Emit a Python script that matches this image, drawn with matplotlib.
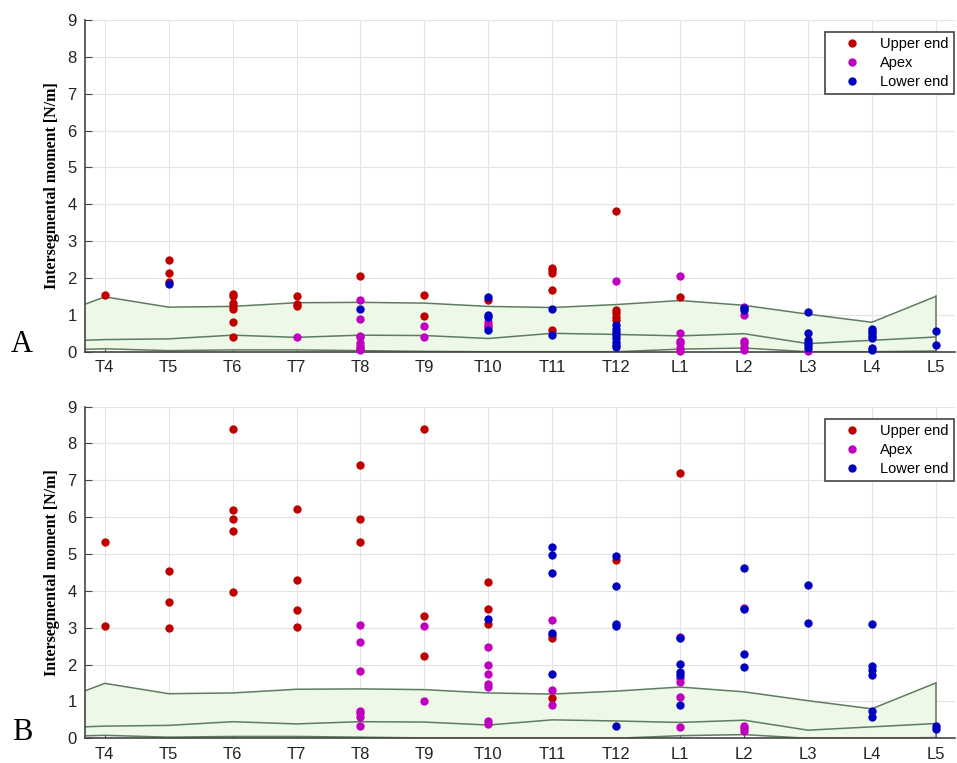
import numpy as np
import matplotlib.pyplot as plt

# vertebral levels (T3 only used for the reference band, it lies left of the axis)
levels = ['T4', 'T5', 'T6', 'T7', 'T8', 'T9', 'T10', 'T11', 'T12',
          'L1', 'L2', 'L3', 'L4', 'L5']
band_levels = ['T3'] + levels

# reference band (max / mean / min)
band_upper = [0.84, 1.49, 1.21, 1.23, 1.33, 1.34, 1.32, 1.23, 1.20, 1.28, 1.39, 1.26, 1.02, 0.80, 1.50]
band_mid = [0.27, 0.33, 0.35, 0.45, 0.39, 0.45, 0.44, 0.36, 0.50, 0.47, 0.43, 0.49, 0.22, 0.31, 0.40]
band_lower = [0.035, 0.08, 0.03, 0.05, 0.05, 0.03, 0.01, 0.0, 0.0, 0.0, 0.07, 0.10, 0.0, 0.0, 0.02]

# panel A
a_upper = {
    'T4': [1.54], 'T5': [2.50, 2.14, 1.90], 'T6': [1.58, 1.51, 1.33, 1.24, 1.16, 0.80, 0.40],
    'T7': [1.52, 1.29, 1.25], 'T8': [2.06], 'T9': [1.55, 0.98],
    'T10': [1.40, 0.72], 'T11': [2.28, 2.21, 2.15, 1.67, 0.59],
    'T12': [3.82, 1.13, 1.04, 0.95, 0.86], 'L1': [1.48],
}
a_apex = {
    'T7': [0.40], 'T8': [1.40, 0.90, 0.44, 0.41, 0.23, 0.15, 0.09, 0.05],
    'T9': [0.71, 0.41], 'T10': [0.81, 0.66], 'T12': [1.92],
    'L1': [2.05, 0.52, 0.30, 0.23, 0.09, 0.03], 'L2': [1.22, 1.01, 0.30, 0.23, 0.14, 0.05],
    'L3': [0.03],
}
a_lower = {
    'T5': [1.83], 'T8': [1.16], 'T10': [1.49, 0.99, 0.93, 0.59], 'T11': [1.16, 0.45],
    'T12': [0.72, 0.63, 0.54, 0.45, 0.36, 0.27, 0.18, 0.14], 'L2': [1.18, 1.13],
    'L3': [1.08, 0.52, 0.32, 0.24, 0.18, 0.11], 'L4': [0.63, 0.56, 0.50, 0.43, 0.36, 0.09, 0.05],
    'L5': [0.57, 0.17],
}

# panel B
b_upper = {
    'T4': [5.33, 3.05], 'T5': [4.55, 3.69, 3.00], 'T6': [8.38, 6.19, 5.96, 5.62, 3.98],
    'T7': [6.22, 4.29, 3.49, 3.02], 'T8': [7.41, 5.94, 5.33], 'T9': [8.39, 3.31, 2.22],
    'T10': [4.25, 3.50, 3.09], 'T11': [2.80, 2.71, 1.09], 'T12': [4.83], 'L1': [7.21],
}
b_apex = {
    'T8': [3.07, 2.60, 1.82, 0.75, 0.68, 0.57, 0.32], 'T9': [3.04, 1.00],
    'T10': [2.48, 2.00, 1.74, 1.47, 1.40, 0.48, 0.38], 'T11': [3.20, 1.30, 0.89],
    'L1': [2.76, 1.63, 1.54, 1.13, 0.31], 'L2': [3.54, 0.33, 0.27, 0.21],
}
b_lower = {
    'T10': [3.25], 'T11': [5.18, 4.98, 4.48, 2.87, 1.75], 'T12': [4.95, 4.13, 3.09, 3.05, 0.32],
    'L1': [2.71, 2.02, 1.79, 1.72, 0.89], 'L2': [4.62, 3.52, 2.29, 1.94],
    'L3': [4.17, 3.13], 'L4': [3.10, 1.96, 1.85, 1.71, 0.74, 0.57], 'L5': [0.32, 0.25],
}

series_names = ['Upper end', 'Apex', 'Lower end']
series_colors = ['#c00000', '#c000c0', '#0000c0']

xpos = {lv: i + 1 for i, lv in enumerate(levels)}
band_x = np.arange(len(band_levels))

fig = plt.figure(figsize=(9.57, 7.63), dpi=100)
ax_a = fig.add_axes([0.0888, 0.539, 0.909, 0.4347])
ax_b = fig.add_axes([0.0888, 0.0324, 0.909, 0.4347])


def draw_panel(ax, groups, letter, letter_y):
    ax.fill_between(band_x, band_lower, band_upper, color='#edf8e6', zorder=1, lw=0)
    for curve in (band_upper, band_mid, band_lower):
        ax.plot(band_x, curve, color='#5e7c60', lw=1.1, zorder=2)
    ax.plot([band_x[-1], band_x[-1]], [band_lower[-1], band_upper[-1]], color='#5e7c60', lw=1.1, zorder=2)

    for data, name, col in zip(groups, series_names, series_colors):
        xs, ys = [], []
        for lv, vals in data.items():
            xs += [xpos[lv]] * len(vals)
            ys += vals
        ax.plot(xs, ys, 'o', color=col, ms=6, mec='none', label=name, zorder=3, clip_on=False)

    ax.set_xlim(0.69, 14.3)
    ax.set_ylim(0, 9)
    ax.set_xticks(range(1, len(levels) + 1))
    ax.set_xticklabels(levels)
    ax.set_yticks(range(0, 10))
    ax.grid(True, color='#e3e3e3', lw=0.8)
    ax.set_axisbelow(True)
    for s in ('top', 'right'):
        ax.spines[s].set_visible(False)
    for s in ('left', 'bottom'):
        ax.spines[s].set_color('#444444')
        ax.spines[s].set_linewidth(1.2)
    ax.tick_params(direction='in', length=5, color='#444444', labelsize=12,
                   labelcolor='#222222', pad=6)
    for lab in ax.get_xticklabels() + ax.get_yticklabels():
        lab.set_family('Liberation Sans')
    ax.set_ylabel('Intersegmental moment [N/m]', family='Liberation Serif',
                  fontweight='bold', fontsize=11.5, labelpad=5)
    leg = ax.legend(loc='upper right', bbox_to_anchor=(0.999, 0.964), borderaxespad=0,
                    fancybox=False, edgecolor='#444444', framealpha=1, borderpad=0.35,
                    handlelength=3.0, handletextpad=0.45, labelspacing=0.35,
                    prop={'family': 'Liberation Sans', 'size': 10.5})
    leg.get_frame().set_linewidth(1.2)
    fig.text(0.023, letter_y, letter, family='Liberation Serif', fontsize=22,
             va='center', ha='center')


draw_panel(ax_a, [a_upper, a_apex, a_lower], 'A', 1 - 345 / 763)
draw_panel(ax_b, [b_upper, b_apex, b_lower], 'B', 1 - 733 / 763)

fig.savefig('out.png', dpi=100)
